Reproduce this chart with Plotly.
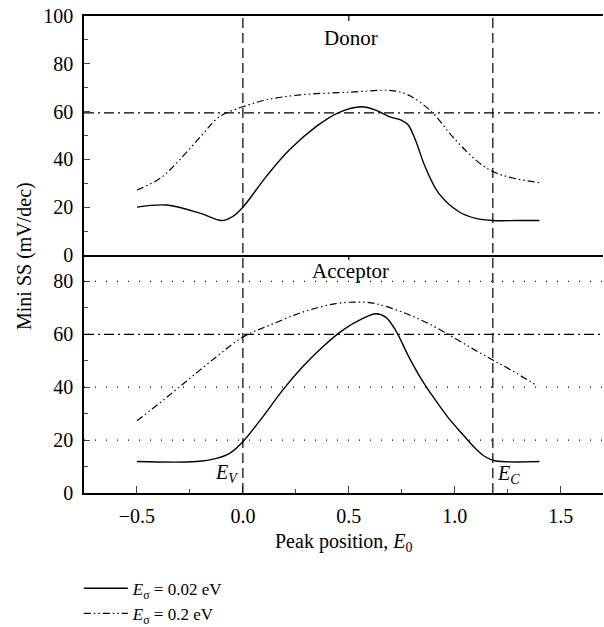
import plotly.graph_objects as go

# ---- data ----
donor_x_narrow = [-0.5, -0.36, -0.2, -0.1, -0.05, 0.0, 0.11, 0.22, 0.35, 0.45, 0.56, 0.63, 0.69, 0.75, 0.78, 0.815, 0.86, 0.925, 1.02, 1.1, 1.18, 1.3, 1.4]
donor_y_narrow = [20.0, 20.9, 17.4, 14.4, 16.0, 20.0, 32.8, 44.0, 54.0, 59.5, 62.0, 60.5, 57.9, 56.3, 54.5, 48.0, 37.0, 25.8, 18.1, 15.3, 14.4, 14.4, 14.4]

donor_x_wide = [-0.5, -0.39, -0.3, -0.2, -0.11, 0.0, 0.11, 0.27, 0.5, 0.7, 0.78, 0.89, 0.99, 1.1, 1.18, 1.28, 1.4]
donor_y_wide = [27.2, 32.1, 39.7, 49.5, 57.9, 62.0, 64.9, 67.0, 68.1, 68.8, 67.0, 60.0, 49.5, 39.7, 34.9, 32.1, 30.3]

acc_x_narrow = [-0.5, -0.22, -0.125, -0.0625, 0.0, 0.094, 0.188, 0.282, 0.376, 0.47, 0.564, 0.627, 0.674, 0.721, 0.784, 0.846, 0.909, 0.972, 1.034, 1.097, 1.144, 1.19, 1.4]
acc_y_narrow = [11.9, 11.9, 13.1, 15.0, 19.4, 28.8, 38.9, 47.7, 55.2, 61.5, 65.9, 67.8, 66.5, 61.5, 51.4, 42.6, 35.1, 28.2, 22.5, 16.9, 13.7, 12.2, 11.9]

acc_x_wide = [-0.5, -0.376, -0.251, -0.125, 0.0, 0.125, 0.282, 0.439, 0.549, 0.627, 0.752, 0.878, 1.003, 1.097, 1.18, 1.27, 1.39]
acc_y_wide = [27.3, 35.1, 43.3, 51.5, 59.0, 63.4, 68.4, 71.6, 72.2, 71.6, 68.4, 64.0, 58.4, 54.0, 50.3, 46.3, 40.5]

series_names = ["<i>E</i><sub>σ</sub> = 0.02 eV", "<i>E</i><sub>σ</sub> = 0.2 eV"]
E_V = 0.0
E_C = 1.18
SS_limit_donor = 59.5
SS_limit_acc = 60.0
acc_grid = [20, 40, 80]
x_ticks = [-0.5, 0.0, 0.5, 1.0, 1.5]
x_ticklabels = ["−0.5", "0.0", "0.5", "1.0", "1.5"]

FONT = "'Liberation Serif', 'Times New Roman', serif"
FS = 20
solid = dict(color="black", width=1.4)
ddot = dict(color="black", width=1.2, dash="7px,3px,1.5px,3px,1.5px,3px")
spl = dict(shape="spline", smoothing=1.0)

fig = go.Figure()
fig.add_trace(go.Scatter(x=donor_x_narrow, y=donor_y_narrow, mode="lines", line=dict(**solid, **spl),
                         name=series_names[0], xaxis="x", yaxis="y", legendrank=1))
fig.add_trace(go.Scatter(x=donor_x_wide, y=donor_y_wide, mode="lines", line=dict(**ddot, **spl),
                         name=series_names[1], xaxis="x", yaxis="y", legendrank=2))
fig.add_trace(go.Scatter(x=acc_x_narrow, y=acc_y_narrow, mode="lines", line=dict(**solid, **spl),
                         name=series_names[0], xaxis="x2", yaxis="y2", showlegend=False))
fig.add_trace(go.Scatter(x=acc_x_wide, y=acc_y_wide, mode="lines", line=dict(**ddot, **spl),
                         name=series_names[1], xaxis="x2", yaxis="y2", showlegend=False))

H = 477.0
mid = 0.499
shapes = []
# vertical band-edge lines
for xv in (E_V, E_C):
    shapes.append(dict(type="line", xref="x2", yref="paper", x0=xv, x1=xv, y0=0, y1=1,
                       line=dict(color="black", width=1.2, dash="10px,5px")))
# SS thermal limit lines
shapes.append(dict(type="line", xref="paper", yref="y", x0=0, x1=1, y0=SS_limit_donor, y1=SS_limit_donor,
                   line=dict(color="black", width=1.2, dash="10px,4px,2px,4px")))
shapes.append(dict(type="line", xref="paper", yref="y2", x0=0, x1=1, y0=SS_limit_acc, y1=SS_limit_acc,
                   line=dict(color="black", width=1.2, dash="10px,4px,2px,4px")))
for g in acc_grid:
    shapes.append(dict(type="line", xref="paper", yref="y2", x0=0, x1=1, y0=g, y1=g,
                       line=dict(color="black", width=1.2, dash="1px,10px")))
# small ticks at x=0.5 on top border and middle border
shapes.append(dict(type="line", xref="x2", yref="paper", x0=0.5, x1=0.5, y0=1, y1=1 - 5 / H,
                   line=dict(color="black", width=1.2)))
shapes.append(dict(type="line", xref="x2", yref="paper", x0=0.5, x1=0.5, y0=mid, y1=mid - 5 / H,
                   line=dict(color="black", width=1.2)))

annotations = [
    dict(text="Donor", x=0.51, y=91, xref="x", yref="y", showarrow=False, font=dict(family=FONT, size=FS + 1)),
    dict(text="Acceptor", x=0.51, y=84, xref="x2", yref="y2", showarrow=False, font=dict(family=FONT, size=FS + 1)),
    dict(text="<i>E</i><sub><i>V</i></sub>", x=-0.012, y=7.5, xref="x2", yref="y2", xanchor="right", showarrow=False,
         font=dict(family=FONT, size=FS)),
    dict(text="<i>E</i><sub><i>C</i></sub>", x=E_C + 0.012, y=7.0, xref="x2", yref="y2", xanchor="left", showarrow=False,
         font=dict(family=FONT, size=FS)),
    dict(text="Mini SS (mV/dec)", x=(24 - 84) / 519, y=(493 - 256) / H, xref="paper", yref="paper", textangle=-90,
         showarrow=False, xanchor="center", yanchor="middle", font=dict(family=FONT, size=FS)),
    dict(text="Peak position, <i>E</i><sub>0</sub>", x=0.5, y=-49 / H, xref="paper", yref="paper",
         showarrow=False, xanchor="center", yanchor="middle", font=dict(family=FONT, size=FS)),
]

axis_common = dict(showline=True, linecolor="black", linewidth=1.5, showgrid=False, zeroline=False,
                   tickfont=dict(family=FONT, size=FS, color="black"))

fig.update_layout(
    width=604, height=627,
    margin=dict(l=84, r=1, t=16, b=134, autoexpand=False),
    paper_bgcolor="white", plot_bgcolor="white",
    font=dict(family=FONT, size=FS, color="black"),
    xaxis=dict(**axis_common, domain=[0, 1], anchor="y", matches="x2", range=[-0.75, 1.7],
               showticklabels=False, ticks="", mirror=True),
    yaxis=dict(**axis_common, domain=[mid, 1], anchor="x", range=[0, 100], tickvals=[0, 20, 40, 60, 80, 100],
               ticks="inside", ticklen=6, tickwidth=1.2, ticklabelstandoff=5,
               minor=dict(tickvals=[10, 30, 50, 70, 90], ticks="inside", ticklen=4, tickwidth=1.2)),
    xaxis2=dict(**axis_common, domain=[0, 1], anchor="y2", range=[-0.75, 1.7], tickvals=x_ticks,
                ticktext=x_ticklabels, ticks="inside", ticklen=7, tickwidth=1.2, ticklabelstandoff=4,
                minor=dict(tickvals=[-0.25, 0.25, 0.75, 1.25], ticks="inside", ticklen=4, tickwidth=1.2)),
    yaxis2=dict(**axis_common, domain=[0, mid], anchor="x2", range=[0, 90], tickvals=[0, 20, 40, 60, 80],
                ticks="inside", ticklen=6, tickwidth=1.2, ticklabelstandoff=5,
                minor=dict(tickvals=[10, 30, 50, 70], ticks="inside", ticklen=4, tickwidth=1.2)),
    shapes=shapes,
    annotations=annotations,
    showlegend=True,
    legend=dict(x=-0.01, xanchor="left", y=-0.163, yanchor="top", bgcolor="rgba(0,0,0,0)",
                font=dict(family=FONT, size=17), itemwidth=44, tracegroupgap=0),
)

fig.write_html("out.html")
